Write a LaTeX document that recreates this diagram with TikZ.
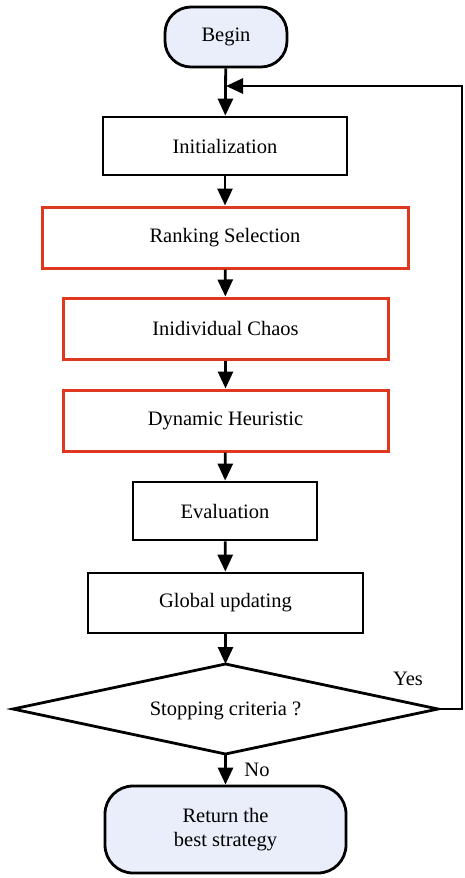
\documentclass[tikz,border=0pt]{standalone}
\usepackage{fontspec}
\setmainfont{Liberation Serif}
\usetikzlibrary{arrows.meta,shapes.geometric}
\definecolor{boxred}{HTML}{E0381E}
\definecolor{termfill}{HTML}{E9EEFA}
\begin{document}
\begin{tikzpicture}[x=1pt,y=-1pt,
  every node/.style={font=\fontsize{20.5}{24}\selectfont, inner sep=0pt},
  blackbox/.style={draw=black, line width=2.8pt, rectangle},
  redbox/.style={draw=boxred, line width=3pt, rectangle},
  term/.style={draw=black, line width=2.8pt, fill=termfill, rounded corners=26pt, align=center},
  conn/.style={line width=2.8pt, -{Triangle[length=17pt,width=15pt]}},
  plain/.style={line width=2.8pt}]
\useasboundingbox (0,0) rectangle (465,878);
\node[term, minimum width=122pt, minimum height=60pt] (begin) at (226,37) {Begin};
\node[blackbox, minimum width=244pt, minimum height=58pt] (init) at (225,146) {Initialization};
\node[redbox, minimum width=366pt, minimum height=61pt] (rank) at (225,237.5) {Ranking Selection};
\node[redbox, minimum width=325pt, minimum height=61pt] (chaos) at (225.5,328.5) {Inidividual Chaos};
\node[redbox, minimum width=325pt, minimum height=61pt] (dyn) at (225.5,420.5) {Dynamic Heuristic};
\node[blackbox, minimum width=184pt, minimum height=58pt] (eval) at (225,511) {Evaluation};
\node[blackbox, minimum width=275pt, minimum height=60pt] (glob) at (225.5,603) {Global updating};
\coordinate (dT) at (225.5,664);
\coordinate (dB) at (225.5,754);
\coordinate (dL) at (13,709);
\coordinate (dR) at (438,709);
\draw[plain, line join=miter] (dT) -- (dR) -- (dB) -- (dL) -- cycle;
\node (stop) at (225.5,711) {Stopping criteria ?};
\node[term, minimum width=241pt, minimum height=87pt, rounded corners=28pt] (ret) at (225.5,829.5) {Return the\\best strategy};
\node (yes) at (408,679) {Yes};
\node (no) at (257,770) {No};
\coordinate (merge) at (226,86);
\coordinate (rc1) at (462,709);
\coordinate (rc2) at (462,86);
\draw[conn] (begin) -- (init);
\draw[conn] (init) -- (rank);
\draw[conn] (rank) -- (chaos);
\draw[conn] (chaos) -- (dyn);
\draw[conn] (dyn) -- (eval);
\draw[conn] (eval) -- (glob);
\draw[conn] (glob) -- (dT);
\draw[conn] (dB) -- (ret);
\draw[conn] (dR) -- (rc1) -- (rc2) -- (merge);
\end{tikzpicture}
\end{document}
